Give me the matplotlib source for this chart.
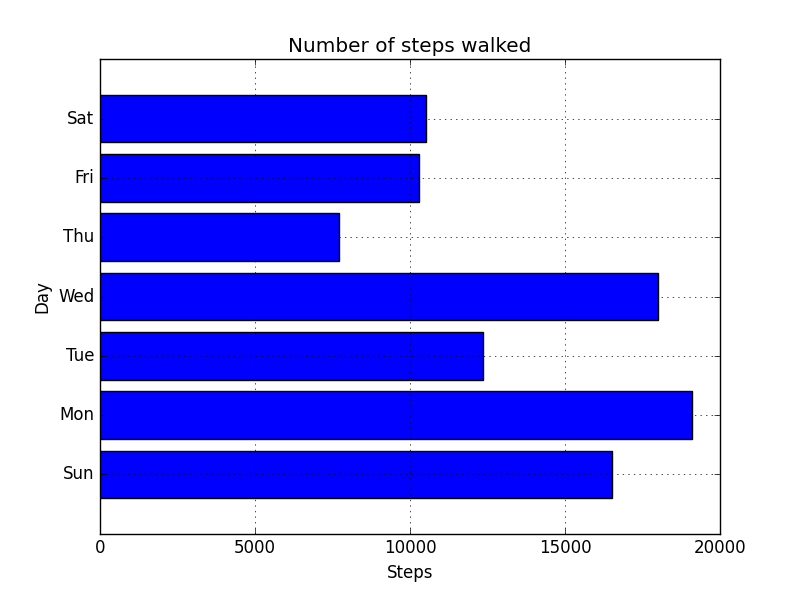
import matplotlib
matplotlib.use("Agg")
import matplotlib.pyplot as plt

days = ["Sun", "Mon", "Tue", "Wed", "Thu", "Fri", "Sat"]
steps = [16500, 19100, 12350, 18000, 7710, 10290, 10520]

plt.style.use("classic")
fig = plt.figure(figsize=(8, 5.93), dpi=100)
ax = fig.add_axes([0.125, 0.1, 0.775, 0.8])
ax.barh(range(len(days)), steps, height=0.8, align="center", color="blue", edgecolor="black")
ax.set_yticks(range(len(days)))
ax.set_yticklabels(days)
ax.set_ylim(-1, 7)
ax.set_xlim(0, 20000)
ax.set_xticks([0, 5000, 10000, 15000, 20000])
ax.grid(True)
ax.set_xlabel("Steps")
ax.set_ylabel("Day")
ax.set_title("Number of steps walked")
fig.savefig("out.png", dpi=100)
